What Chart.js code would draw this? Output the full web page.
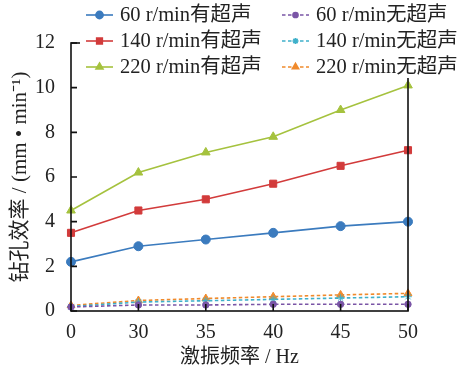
<!DOCTYPE html>
<html>
<head>
<meta charset="utf-8">
<script src="https://cdn.jsdelivr.net/npm/chart.js@4.4.1/dist/chart.umd.min.js"></script>
<style>
  html, body { margin: 0; padding: 0; background: #fff; }
  #wrap { width: 461px; height: 370px; }
</style>
</head>
<body>
<div id="wrap"><canvas id="myChart" width="461" height="370"></canvas></div>
<script>
// 激振频率 (Hz)
var freqs = ["0", "30", "35", "40", "45", "50"];
// 有超声
var with60 = [2.2, 2.9, 3.2, 3.5, 3.8, 4.0];
var with140 = [3.5, 4.5, 5.0, 5.7, 6.5, 7.2];
var with220 = [4.5, 6.2, 7.1, 7.8, 9.0, 10.1];
// 无超声
var without60 = [0.18, 0.27, 0.27, 0.3, 0.3, 0.3];
var without140 = [0.2, 0.4, 0.46, 0.52, 0.58, 0.64];
var without220 = [0.25, 0.47, 0.56, 0.64, 0.72, 0.79];
var yMin = 0, yMax = 12, yStep = 2;

var FONT = '"Liberation Serif", "Noto Sans CJK SC", serif';
Chart.defaults.font.family = FONT;
Chart.defaults.color = "#222";

function serie(label, data, color, style, radius, dashed) {
  return {
    label: label,
    data: data,
    borderColor: color,
    backgroundColor: color,
    pointBackgroundColor: color,
    pointBorderColor: color,
    pointStyle: style,
    pointRadius: radius,
    pointBorderWidth: 1,
    borderWidth: 1.6,
    borderDash: dashed ? [3.5, 2.5] : [],
    tension: 0,
  };
}

// frame, inward ticks and the legend box drawn over the plot
var framePlugin = {
  id: "frame",
  afterDraw: function (chart) {
    var c = chart.ctx;
    var a = chart.chartArea;
    var x = chart.scales.x;
    var y = chart.scales.y;
    c.save();
    c.strokeStyle = "#111";
    c.lineWidth = 1.6;
    c.strokeRect(a.left, a.top, a.right - a.left, a.bottom - a.top);
    c.beginPath();
    x.ticks.forEach(function (t, i) {
      var px = x.getPixelForTick(i);
      c.moveTo(px, a.bottom);
      c.lineTo(px, a.bottom - 7);
    });
    y.ticks.forEach(function (t, i) {
      var py = y.getPixelForTick(i);
      c.moveTo(a.left, py);
      c.lineTo(a.left + 6, py);
    });
    c.stroke();

    // legend
    c.fillStyle = "#fff";
    c.fillRect(80, 0, 381, 78);
    var colX = [86, 282];
    var rowY = [15, 41, 67];
    c.font = "20.5px " + FONT;
    c.textBaseline = "middle";
    chart.data.datasets.forEach(function (ds, i) {
      var lx = colX[Math.floor(i / 3)];
      var ly = rowY[i % 3];
      c.strokeStyle = ds.borderColor;
      c.fillStyle = ds.borderColor;
      c.lineWidth = 1.6;
      c.setLineDash(ds.borderDash);
      c.beginPath();
      c.moveTo(lx, ly);
      c.lineTo(lx + 27, ly);
      c.stroke();
      c.setLineDash([]);
      Chart.helpers.drawPoint(c, {
        pointStyle: ds.pointStyle,
        radius: ds.pointRadius * 0.8,
        borderWidth: 1,
        rotation: 0,
      }, lx + 13.5, ly);
      c.fillStyle = "#222";
      c.fillText(ds.label, lx + 34, ly + 1);
    });
    c.restore();
  },
};

var ctx = document.getElementById("myChart");
var myChart = new Chart(ctx, {
  type: "line",
  data: {
    labels: freqs,
    datasets: [
      serie("60 r/min有超声", with60, "#3B7BBE", "circle", 4.5, false),
      serie("140 r/min有超声", with140, "#D23B3B", "rect", 5, false),
      serie("220 r/min有超声", with220, "#A5C23E", "triangle", 5, false),
      serie("60 r/min无超声", without60, "#7A55A6", "circle", 3.2, true),
      serie("140 r/min无超声", without140, "#3FB0CA", "star", 3.8, true),
      serie("220 r/min无超声", without220, "#F08A2C", "triangle", 4.5, true),
    ],
  },
  options: {
    responsive: false,
    animation: false,
    layout: { padding: { top: 43, right: 53, bottom: 0, left: 0 } },
    plugins: {
      legend: { display: false },
      tooltip: { enabled: false },
    },
    scales: {
      x: {
        type: "category",
        offset: false,
        grid: { display: false },
        border: { display: false },
        ticks: { font: { size: 20 }, padding: 2, autoSkip: false, maxRotation: 0 },
        title: { display: true, text: "激振频率 / Hz", font: { size: 20 }, padding: { top: 2, bottom: 0 } },
        afterFit: function (s) { s.height = 59; },
      },
      y: {
        min: yMin,
        max: yMax,
        grid: { display: false },
        border: { display: false },
        ticks: { stepSize: yStep, font: { size: 20 }, padding: 8 },
        title: { display: true, text: "钻孔效率 / (mm • min⁻¹)", font: { size: 21 }, padding: { top: 8, bottom: 0 } },
        afterFit: function (s) { s.width = 71; },
      },
    },
  },
  plugins: [framePlugin],
});
</script>
</body>
</html>
